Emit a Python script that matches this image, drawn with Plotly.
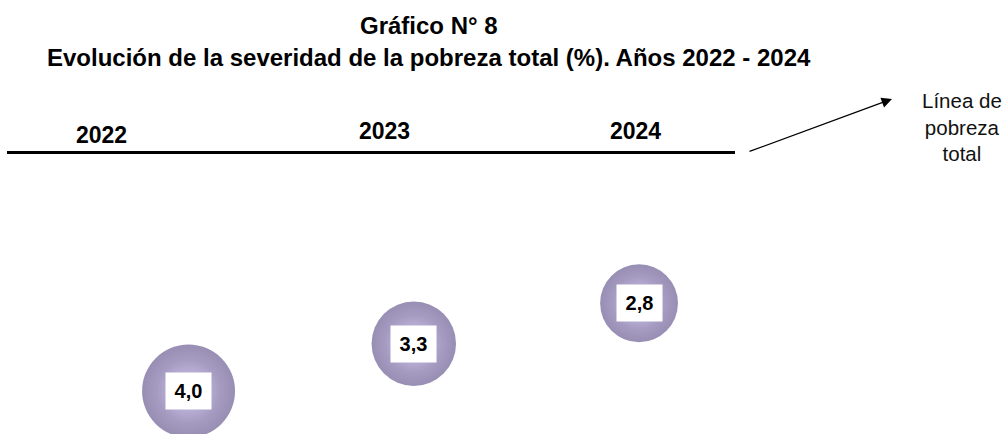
import numpy as np
import plotly.graph_objects as go

# ---------------- data ----------------
years = [2022, 2023, 2024]
severity = [4.0, 3.3, 2.8]
value_labels = ["4,0", "3,3", "2,8"]
year_labels = ["2022", "2023", "2024"]
title_line1 = "Gráfico N° 8"
title_line2 = "Evolución de la severidad de la pobreza total (%). Años 2022 - 2024"
note_text = "Línea de<br>pobreza<br>total"

# ---------------- layout constants ----------------
W, H = 1008, 434
FONT = "Arial, 'Liberation Sans', sans-serif"
MAX_D = 93  # px diameter of the largest sphere
sref = 2 * max(severity) / MAX_D ** 2

fig = go.Figure()

# sphere body (radial gradient: marker.color = rim, gradient.color = centre)
fig.add_trace(go.Scatter(
    x=years, y=severity, mode="markers",
    marker=dict(size=severity, sizemode="area", sizeref=sref,
                color="#6c5e94",
                gradient=dict(type="radial", color="#a797cf"),
                line=dict(width=0)),
    hoverinfo="skip", showlegend=False))
# soft highlight
fig.add_trace(go.Scatter(
    x=years, y=severity, mode="markers",
    marker=dict(size=severity, sizemode="area", sizeref=sref * 2.2,
                color="rgba(222,208,250,0)",
                gradient=dict(type="radial", color="rgba(222,208,250,0.65)"),
                line=dict(width=0)),
    hoverinfo="skip", showlegend=False))

annotations = []
# value boxes
for yr, v, lab in zip(years, severity, value_labels):
    annotations.append(dict(
        x=yr, y=np.log10(v), xref="x", yref="y", text="<b>%s</b>" % lab,
        showarrow=False, bgcolor="white", width=43, height=34, borderpad=1,
        font=dict(family=FONT, size=20, color="black"), align="center",
        xanchor="center", yanchor="middle"))

# year labels above the line
year_xshift = [-87, -29, -4]
year_ypix = [135, 131, 131]
for yr, lab, xs, yp in zip(years, year_labels, year_xshift, year_ypix):
    annotations.append(dict(
        x=yr, y=1 - yp / H, xref="x", yref="paper", xshift=xs,
        text="<b>%s</b>" % lab, showarrow=False,
        font=dict(family=FONT, size=23, color="black"),
        xanchor="center", yanchor="middle"))

# titles
annotations.append(dict(x=429 / W, y=1 - 25 / H, xref="paper", yref="paper",
                        text="<b>%s</b>" % title_line1, showarrow=False,
                        font=dict(family=FONT, size=24, color="black"),
                        xanchor="center", yanchor="middle"))
annotations.append(dict(x=429 / W, y=1 - 57 / H, xref="paper", yref="paper",
                        text="<b>%s</b>" % title_line2, showarrow=False,
                        font=dict(family=FONT, size=24, color="black"),
                        xanchor="center", yanchor="middle"))

# arrow
annotations.append(dict(x=892 / W, y=1 - 99 / H, xref="paper", yref="paper",
                        ax=-144, ay=53, axref="pixel", ayref="pixel",
                        text="", showarrow=True, arrowhead=2, arrowsize=1.6,
                        arrowwidth=1.3, arrowcolor="black", standoff=0))

# side note
annotations.append(dict(x=962 / W, y=1 - 127 / H, xref="paper", yref="paper",
                        text=note_text, showarrow=False, align="center",
                        font=dict(family=FONT, size=20.5, color="#111111"),
                        xanchor="center", yanchor="middle"))

shapes = [dict(type="line", xref="paper", yref="paper",
               x0=7 / W, x1=735 / W, y0=1 - 152.5 / H, y1=1 - 152.5 / H,
               line=dict(color="black", width=3))]

# axes: x maps years to sphere centres, y (log) maps severity to height
x_slope = 225.25
x0_px = 413.8
xr = [2023 - x0_px / x_slope, 2023 + (W - x0_px) / x_slope]
y_slope = 566.6
ymid_log = 0.5226
ymid_px = 346
yr_rng = [ymid_log + (H - ymid_px) / y_slope, ymid_log - ymid_px / y_slope]

fig.update_layout(
    width=W, height=H, margin=dict(l=0, r=0, t=0, b=0),
    paper_bgcolor="white", plot_bgcolor="white",
    xaxis=dict(range=xr, visible=False, fixedrange=True),
    yaxis=dict(type="log", range=yr_rng, visible=False, fixedrange=True),
    annotations=annotations, shapes=shapes, showlegend=False)

fig.write_html("out.html",
               config={"displayModeBar": False, "staticPlot": True},
               post_script="document.body.style.margin='0';"
                           "document.body.style.overflow='hidden';")
